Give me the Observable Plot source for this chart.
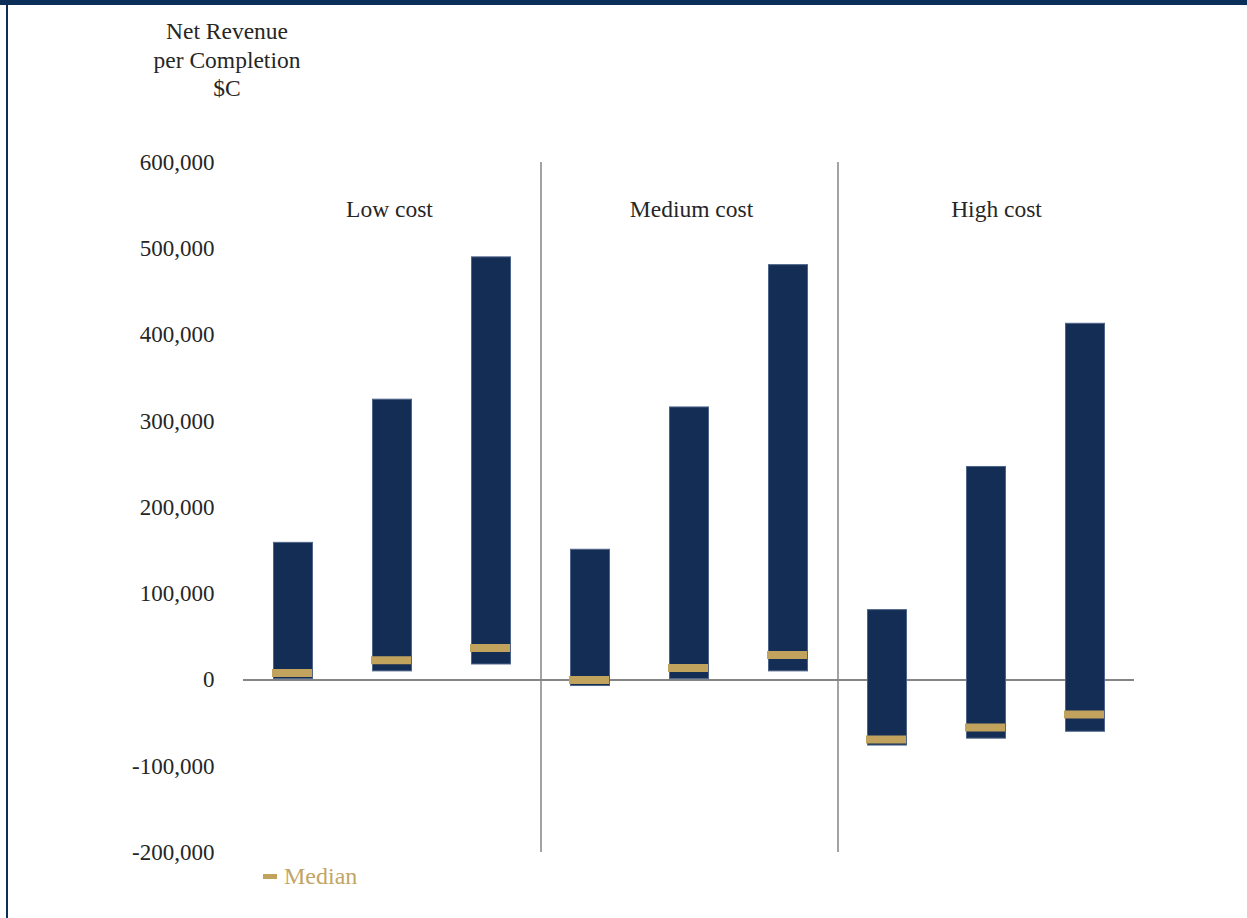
<!DOCTYPE html>
<html>
<head>
<meta charset="utf-8">
<script src="https://cdn.jsdelivr.net/npm/d3@7"></script>
<script src="https://cdn.jsdelivr.net/npm/@observablehq/plot@0.6"></script>
<style>
  body { margin: 0; background: #fff; }
  #wrap { position: relative; width: 1247px; height: 918px; overflow: hidden; background: #fff;
          font-family: "Liberation Serif", "DejaVu Serif", serif; }
  #topbar { position: absolute; left: 0; top: 0; width: 1247px; height: 5px; background: #0C2F59; }
  #leftbar { position: absolute; left: 6px; top: 0; width: 2px; height: 918px; background: #0C2F59; }
  #title { position: absolute; left: 127px; top: 17px; width: 200px; text-align: center;
           font-size: 23.5px; line-height: 28.5px; color: #262626; }
  #chart { position: absolute; left: 0; top: 100px; }
  #legend { position: absolute; left: 263px; top: 861px; height: 30px; line-height: 30px;
            font-size: 24px; color: #C2A564; display: flex; align-items: center; }
  #legend .sw { display: inline-block; width: 14px; height: 5px; background: #C1A35E; margin-right: 7px; }
</style>
</head>
<body>
<div id="wrap">
  <div id="topbar"></div>
  <div id="leftbar"></div>
  <div id="title">Net Revenue<br>per Completion<br>$C</div>
  <div id="chart"></div>
  <div id="legend"><span class="sw"></span><span>Median</span></div>
</div>
<script>
// ---- data ----
const groups = ["Low cost", "Medium cost", "High cost"];
const tiers = ["A", "B", "C"];
const highs   = [159000, 325000, 490000, 151000, 316000, 481000, 81000, 247000, 413000];
const lows    = [1000, 10000, 18000, -7000, 1000, 10000, -76000, -68000, -60000];
const medians = [8000, 23000, 37000, 0, 14000, 29000, -69000, -55000, -40000];
const yTicks  = [-200000, -100000, 0, 100000, 200000, 300000, 400000, 500000, 600000];

const data = highs.map((h, i) => ({
  group: groups[Math.floor(i / 3)],
  tier: tiers[i % 3],
  key: groups[Math.floor(i / 3)] + " " + tiers[i % 3],
  high: h,
  low: lows[i],
  median: medians[i]
}));
const keys = data.map(d => d.key);
const groupLabels = groups.map((g, i) => ({ key: keys[i * 3 + 1], label: g }));
const dividers = groups.slice(1).map((g, i) => ({ key: keys[(i + 1) * 3] }));
const labelShift = [-3, 2, 10];

const fmt = d => d3.format(",")(d).replace("\u2212", "-");

const chart = Plot.plot({
  width: 1247,
  height: 790,
  marginLeft: 243,
  marginRight: 113,
  marginTop: 62,
  marginBottom: 38,
  style: { fontFamily: '"Liberation Serif", "DejaVu Serif", serif', fontSize: "23px", color: "#262626", background: "transparent", overflow: "visible" },
  x: { domain: keys, paddingInner: 0.6, paddingOuter: 0.3, axis: null },
  y: { domain: [-200000, 600000], axis: null },
  marks: [
    Plot.ruleX(dividers, { x: "key", dx: -49.5, y1: -200000, y2: 600000, stroke: "#A3A3A3", strokeWidth: 2 }),
    Plot.ruleY([0], { stroke: "#858585", strokeWidth: 2 }),
    Plot.barY(data, { x: "key", y1: "low", y2: "high", fill: "#132D55", stroke: "#4E6488", strokeWidth: 1, insetLeft: 0.5, insetRight: 0.5 }),
    Plot.tickY(data, { x: "key", y: "median", stroke: "#C1A35E", strokeWidth: 8, dx: -1, strokeLinecap: "butt" }),
    ...groupLabels.map((g, i) =>
      Plot.text([g], { x: "key", text: "label", frameAnchor: "top", dy: 47, dx: labelShift[i], lineAnchor: "middle", fontSize: 23.5, fill: "#262626" })
    ),
    Plot.axisY({ ticks: yTicks, tickFormat: fmt, tickSize: 0, tickPadding: 29, fontSize: 23, label: null, fill: "#262626" })
  ]
});
document.getElementById("chart").appendChild(chart);
</script>
</body>
</html>
